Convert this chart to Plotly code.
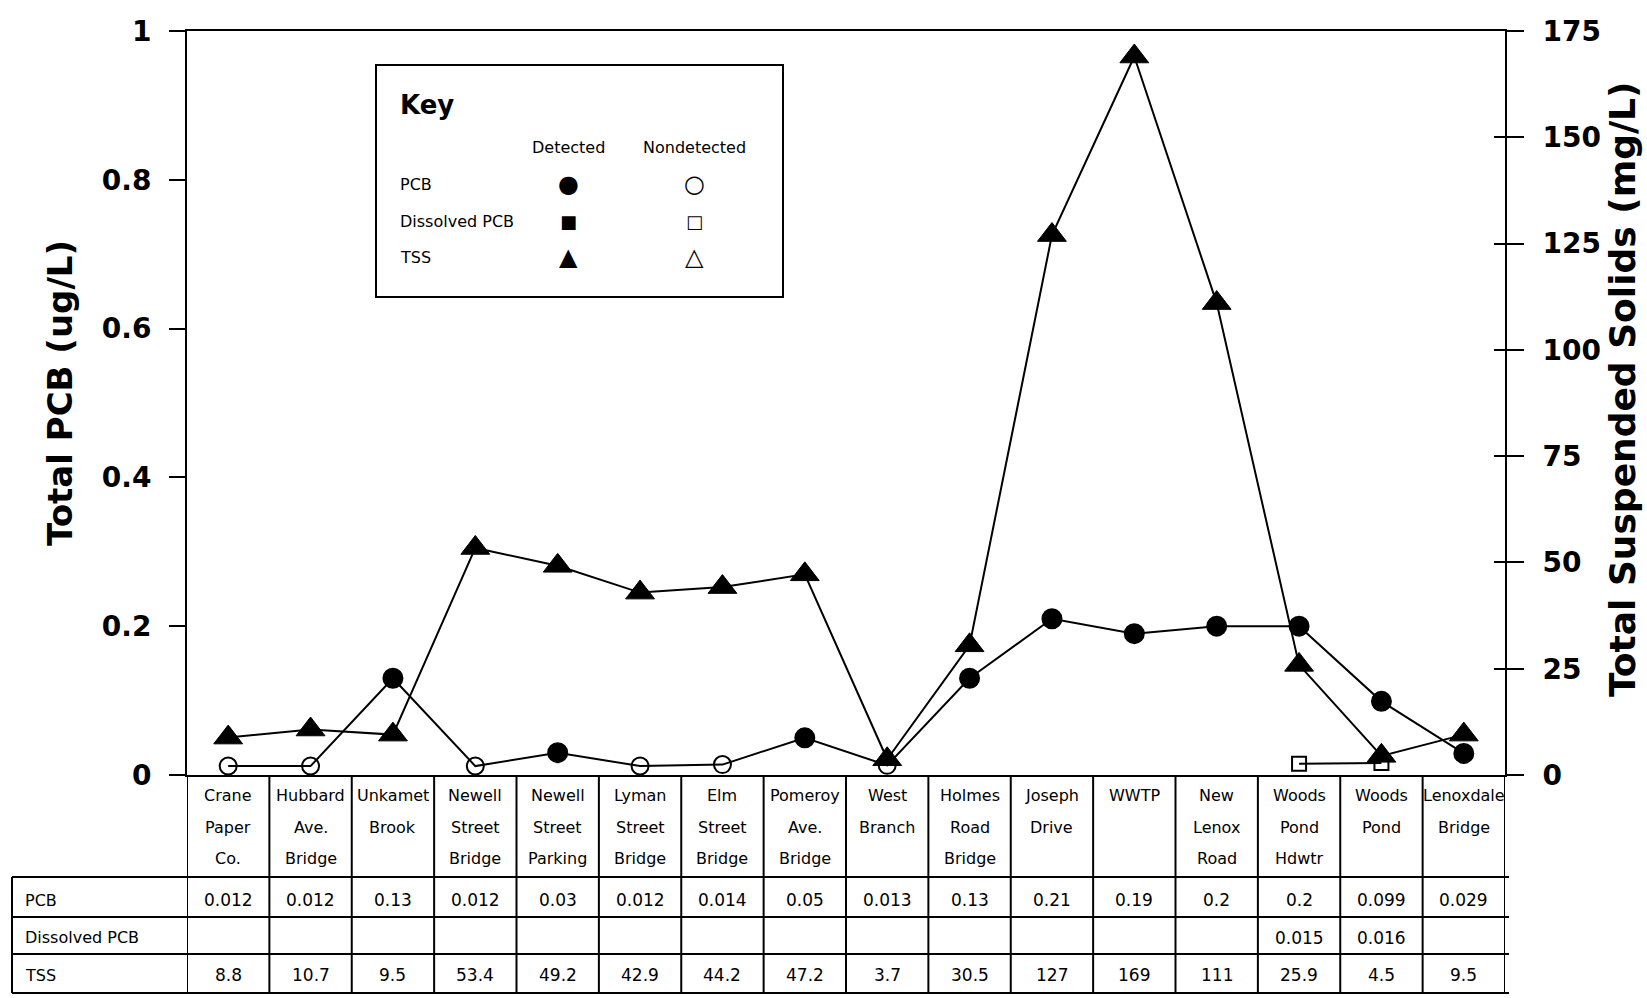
import plotly.graph_objects as go

# ---------------- data ----------------
sites = ["Crane|Paper|Co.", "Hubbard|Ave.|Bridge", "Unkamet|Brook", "Newell|Street|Bridge",
         "Newell|Street|Parking", "Lyman|Street|Bridge", "Elm|Street|Bridge", "Pomeroy|Ave.|Bridge",
         "West|Branch", "Holmes|Road|Bridge", "Joseph|Drive", "WWTP", "New|Lenox|Road",
         "Woods|Pond|Hdwtr", "Woods|Pond", "Lenoxdale|Bridge"]
pcb = [0.012, 0.012, 0.13, 0.012, 0.03, 0.012, 0.014, 0.05, 0.013, 0.13, 0.21, 0.19, 0.2, 0.2, 0.099, 0.029]
pcb_detected = [False, False, True, False, True, False, False, True, False, True, True, True, True, True, True, True]
dissolved_pcb = [None, None, None, None, None, None, None, None, None, None, None, None, None, 0.015, 0.016, None]
dissolved_detected = [False] * 16
tss = [8.8, 10.7, 9.5, 53.4, 49.2, 42.9, 44.2, 47.2, 3.7, 30.5, 127, 169, 111, 25.9, 4.5, 9.5]
tss_detected = [True] * 16
row_labels = ["PCB", "Dissolved PCB", "TSS"]
left_title = "Total PCB (ug/L)"
right_title = "Total Suspended Solids (mg/L)"

# ---------------- layout constants ----------------
W, H = 1647, 998
ML, MR, MT, MB = 187, 142, 31, 223
PW, PH = W - ML - MR, H - MT - MB
Y0 = MT + PH  # pixel y of the x axis


def py(Y):
    return (Y0 - Y) / PH


def px(X):
    return (X - ML) / PW


FONT = "DejaVu Sans"
SMALL = 16
x = list(range(len(sites)))

fig = go.Figure()

fig.add_trace(go.Scatter(
    x=x, y=pcb, mode="lines+markers", name="PCB",
    line=dict(color="black", width=2),
    marker=dict(symbol=["circle" if d else "circle-open" for d in pcb_detected],
                size=[19 if d else 17 for d in pcb_detected], opacity=1,
                color="black", line=dict(color="black", width=2)),
    showlegend=False, hoverinfo="skip"))

fig.add_trace(go.Scatter(
    x=x, y=dissolved_pcb, mode="lines+markers", name="Dissolved PCB",
    line=dict(color="black", width=2),
    marker=dict(symbol=["square" if d else "square-open" for d in dissolved_detected],
                size=14, opacity=1, color="black", line=dict(color="black", width=2)),
    showlegend=False, hoverinfo="skip"))

fig.add_trace(go.Scatter(
    x=x, y=tss, mode="lines+markers", name="TSS", yaxis="y2",
    line=dict(color="black", width=2),
    marker=dict(symbol=["triangle-up" if d else "triangle-up-open" for d in tss_detected],
                size=25, opacity=1, color="black", line=dict(color="black", width=1)),
    showlegend=False, hoverinfo="skip"))

# empty trace to host the inside-tick copy of the right axis
fig.add_trace(go.Scatter(x=[], y=[], yaxis="y3", showlegend=False, hoverinfo="skip"))

shapes = []
ann = []

# ---------------- table ----------------
row_bottoms = [877, 917, 954, 993]
row_centers = [900, 938, 975]
n = len(sites)
for k in range(n + 1):
    shapes.append(dict(type="line", xref="x", yref="paper", x0=k - 0.5, x1=k - 0.5,
                       y0=py(Y0), y1=py(row_bottoms[-1]), line=dict(color="black", width=2)))
shapes.append(dict(type="line", xref="paper", yref="paper", x0=px(12), x1=px(12),
                   y0=py(row_bottoms[0]), y1=py(row_bottoms[-1]), line=dict(color="black", width=2)))
for yb in row_bottoms:
    shapes.append(dict(type="line", xref="paper", yref="paper", x0=px(12), x1=px(1509),
                       y0=py(yb), y1=py(yb), line=dict(color="black", width=2)))

for i, s in enumerate(sites):
    for j, line in enumerate(s.split("|")):
        ann.append(dict(x=i, y=py(795 + 32 * j), xref="x", yref="paper", text=line,
                        showarrow=False, xanchor="center", yanchor="middle",
                        font=dict(family=FONT, size=SMALL, color="black")))

rows = [pcb, dissolved_pcb, tss]
for r, (lab, vals) in enumerate(zip(row_labels, rows)):
    ann.append(dict(x=px(23), y=py(row_centers[r]), xref="paper", yref="paper", text=lab,
                    showarrow=False, xanchor="left", yanchor="middle",
                    font=dict(family=FONT, size=SMALL, color="black")))
    for i, v in enumerate(vals):
        if v is None:
            continue
        ann.append(dict(x=i, y=py(row_centers[r]), xref="x", yref="paper", text=f"{v:g}",
                        showarrow=False, xanchor="center", yanchor="middle",
                        font=dict(family=FONT, size=17, color="black")))

# ---------------- key ----------------
shapes.append(dict(type="rect", xref="paper", yref="paper", x0=px(376), x1=px(783),
                   y0=py(297), y1=py(65), line=dict(color="black", width=2), fillcolor="white",
                   layer="below"))
ann.append(dict(x=px(398), y=py(105), xref="paper", yref="paper", text="Key", showarrow=False,
                xanchor="left", yanchor="middle",
                font=dict(family=FONT, size=26, color="black", weight="bold")))
ann.append(dict(x=px(568), y=py(147), xref="paper", yref="paper", text="Detected", showarrow=False,
                xanchor="center", yanchor="middle", font=dict(family=FONT, size=SMALL, color="black")))
ann.append(dict(x=px(694), y=py(147), xref="paper", yref="paper", text="Nondetected", showarrow=False,
                xanchor="center", yanchor="middle", font=dict(family=FONT, size=SMALL, color="black")))
key_rows = [("PCB", "●", "○", 184, 24), ("Dissolved PCB", "■", "□", 221, 18), ("TSS", "▲", "△", 257, 24)]
for lab, det, nd, yy, sz in key_rows:
    ann.append(dict(x=px(398), y=py(yy), xref="paper", yref="paper", text=lab, showarrow=False,
                    xanchor="left", yanchor="middle", font=dict(family=FONT, size=SMALL, color="black")))
    ann.append(dict(x=px(568), y=py(yy), xref="paper", yref="paper", text=det, showarrow=False,
                    xanchor="center", yanchor="middle", font=dict(family=FONT, size=sz, color="black")))
    ann.append(dict(x=px(694), y=py(yy), xref="paper", yref="paper", text=nd, showarrow=False,
                    xanchor="center", yanchor="middle", font=dict(family=FONT, size=sz, color="black")))

# ---------------- axis titles ----------------
ann.append(dict(x=px(60), y=py(393), xref="paper", yref="paper", text=left_title, textangle=-90,
                showarrow=False, xanchor="center", yanchor="middle",
                font=dict(family=FONT, size=34, color="black", weight="bold")))
ann.append(dict(x=px(1622), y=py(389), xref="paper", yref="paper", text=right_title, textangle=-90,
                showarrow=False, xanchor="center", yanchor="middle",
                font=dict(family=FONT, size=36, color="black", weight="bold")))

tickfont = dict(family=FONT, size=28, color="black", weight="bold")
fig.update_layout(
    width=W, height=H,
    margin=dict(l=ML, r=MR, t=MT, b=MB, pad=0),
    paper_bgcolor="white", plot_bgcolor="white",
    font=dict(family=FONT, color="black"),
    xaxis=dict(range=[-0.5, n - 0.5], showgrid=False, zeroline=False, showticklabels=False,
               ticks="", showline=True, linewidth=2, linecolor="black", mirror=True, fixedrange=True),
    yaxis=dict(range=[0, 1], dtick=0.2, showgrid=False, zeroline=False, ticks="outside",
               ticklen=16, tickwidth=2, tickcolor="black", showline=True, linewidth=2,
               linecolor="black", tickfont=tickfont, ticklabelstandoff=12),
    yaxis2=dict(range=[0, 175], dtick=25, overlaying="y", side="right", anchor="x",
                showgrid=False, zeroline=False, ticks="outside", ticklen=17, tickwidth=2,
                tickcolor="black", showline=True, linewidth=2, linecolor="black",
                tickfont=tickfont, ticklabelstandoff=13),
    yaxis3=dict(range=[0, 175], dtick=25, overlaying="y", side="right", anchor="x",
                showgrid=False, zeroline=False, ticks="inside", ticklen=11, tickwidth=2,
                tickcolor="black", showline=False, showticklabels=False),
    shapes=shapes, annotations=ann,
)

fig.write_html("out.html")
